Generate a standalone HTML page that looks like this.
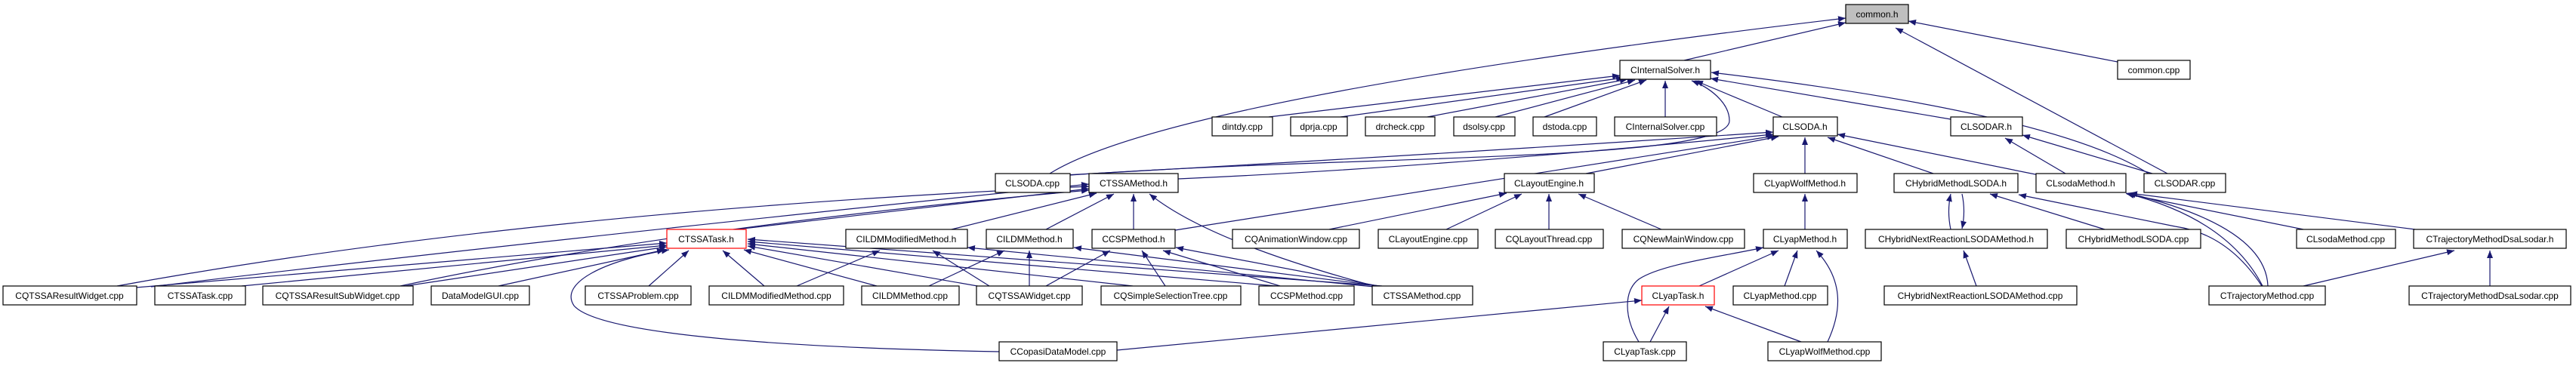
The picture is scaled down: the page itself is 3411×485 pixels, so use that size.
<!DOCTYPE html>
<html><head><meta charset="utf-8"><style>
html,body{margin:0;padding:0;background:#fff}
svg{display:block}
text{font-family:"Liberation Sans",sans-serif;font-size:12px;fill:#000}
.e{fill:none;stroke:#191970;stroke-width:1.2;marker-end:url(#a)}
.n{fill:#fff;stroke:#000;stroke-width:1.2}
.r{fill:#fff;stroke:#ff0000;stroke-width:1.2}
</style></head><body>
<svg width="3411" height="485" viewBox="0 0 3411 485" xmlns="http://www.w3.org/2000/svg">
<defs><marker id="a" markerUnits="userSpaceOnUse" markerWidth="11" markerHeight="9" refX="10" refY="4" orient="auto"><path d="M0,0 L10,4 L0,8 z" fill="#191970"/></marker></defs>
<g>
<!-- common.h -->
<path class="e" d="M2230,80 L2444,30"/>
<path class="e" d="M1390,230 Q1550,130 2444,24"/>
<path class="e" d="M2870,230 L2510,37"/>
<path class="e" d="M2804,82 L2527,28"/>
<!-- CInternalSolver.h -->
<path class="e" d="M1680,155 L2145,100"/>
<path class="e" d="M1775,155 L2150,103"/>
<path class="e" d="M1890,155 L2155,105"/>
<path class="e" d="M1980,155 L2165,106"/>
<path class="e" d="M2045,155 L2180,106"/>
<path class="e" d="M2205,155 L2205,107"/>
<path class="e" d="M2360,155 L2245,107"/>
<path class="e" d="M2583,158 L2265,104"/>
<path class="e" d="M2845,230 Q2720,150 2266,96"/>
<path class="e" d="M1417,232 C1800,205 2290,215 2290,160 C2290,135 2262,115 2240,107"/>
<!-- CLSODA.h -->
<path class="e" d="M1410,232 Q1900,205 2348,175"/>
<path class="e" d="M1560,237 Q1900,222 2348,178"/>
<path class="e" d="M2100,230 L2355,181"/>
<path class="e" d="M1556,305 L2350,180"/>
<path class="e" d="M2390,230 L2390,182"/>
<path class="e" d="M2560,230 L2420,182"/>
<path class="e" d="M2700,232 L2433,178"/>
<!-- CLayoutEngine.h -->
<path class="e" d="M1760,304 L1995,256"/>
<path class="e" d="M1915,304 L2015,257"/>
<path class="e" d="M2051,304 L2051,257"/>
<path class="e" d="M2200,304 L2090,257"/>
<!-- CTSSAMethod.h -->
<path class="e" d="M975,304 L1442,250"/>
<path class="e" d="M1260,304 L1452,256"/>
<path class="e" d="M1385,304 L1475,257"/>
<path class="e" d="M1501,304 L1501,257"/>
<path class="e" d="M1820,379 Q1600,320 1522,257"/>
<path class="e" d="M155,379 Q700,280 1442,247"/>
<path class="e" d="M530,379 Q900,300 1442,252"/>
<path class="e" d="M200,380 Q700,320 1442,244"/>
<!-- CTSSATask.h -->
<path class="e" d="M180,381 L883,322"/>
<path class="e" d="M320,379 L883,325"/>
<path class="e" d="M530,380 L883,327"/>
<path class="e" d="M660,379 L880,331"/>
<path class="e" d="M859,379 L912,332"/>
<path class="e" d="M1012,379 L957,332"/>
<path class="e" d="M1161,379 L985,331"/>
<path class="e" d="M1300,380 L990,326"/>
<path class="e" d="M1500,379 L990,323"/>
<path class="e" d="M1690,379 L990,320"/>
<path class="e" d="M1830,379 L990,317"/>
<path class="e" d="M1323,466 C1000,460 790,440 760,405 C740,375 800,345 886,331"/>
<!-- CILDMModifiedMethod.h -->
<path class="e" d="M1055,379 L1165,332"/>
<path class="e" d="M1310,379 L1235,332"/>
<path class="e" d="M1830,381 L1281,328"/>
<!-- CILDMMethod.h -->
<path class="e" d="M1230,379 L1330,332"/>
<path class="e" d="M1363,379 L1363,332"/>
<path class="e" d="M1835,380 L1422,328"/>
<!-- CCSPMethod.h -->
<path class="e" d="M1385,379 L1470,332"/>
<path class="e" d="M1543,379 L1512,332"/>
<path class="e" d="M1695,379 L1540,332"/>
<path class="e" d="M1825,379 L1557,328"/>
<!-- Lyap -->
<path class="e" d="M2390,304 L2390,257"/>
<path class="e" d="M2170,453 C2150,420 2150,385 2170,370 C2200,350 2280,340 2335,328"/>
<path class="e" d="M2250,379 L2355,332"/>
<path class="e" d="M2363,379 L2380,332"/>
<path class="e" d="M2420,453 C2440,410 2440,370 2405,332"/>
<path class="e" d="M2185,453 L2210,406"/>
<path class="e" d="M2385,453 L2258,406"/>
<path class="e" d="M1479,464 L2174,398"/>
<!-- LSODAR / Lsoda -->
<path class="e" d="M2735,230 L2655,183"/>
<path class="e" d="M2850,230 L2678,179"/>
<path class="e" d="M2996,379 Q2950,290 2815,256"/>
<path class="e" d="M3003,379 Q3000,300 2818,256"/>
<path class="e" d="M3050,304 L2816,257"/>
<path class="e" d="M3198,304 L2820,256"/>
<!-- Hybrid -->
<path class="e" d="M2583,304 Q2578,280 2583,257"/>
<path class="e" d="M2598,257 Q2603,280 2598,303"/>
<path class="e" d="M2787,304 L2635,257"/>
<path class="e" d="M2995,379 Q2950,310 2880,300 L2673,258"/>
<path class="e" d="M2617,379 L2600,332"/>
<!-- Trajectory -->
<path class="e" d="M3050,379 L3250,332"/>
<path class="e" d="M3297,379 L3297,332"/>
</g>
<g>
<rect x="2444" y="6" width="83" height="25" fill="#bfbfbf" stroke="#000" stroke-width="1.2"/><text x="2485.5" y="23" text-anchor="middle">common.h</text>
<rect class="n" x="2145" y="80" width="120" height="25"/><text x="2205" y="97" text-anchor="middle">CInternalSolver.h</text>
<rect class="n" x="2804" y="80" width="96" height="25"/><text x="2852" y="97" text-anchor="middle">common.cpp</text>
<rect class="n" x="1605" y="155" width="80" height="25"/><text x="1645" y="172" text-anchor="middle">dintdy.cpp</text>
<rect class="n" x="1709" y="155" width="75" height="25"/><text x="1746" y="172" text-anchor="middle">dprja.cpp</text>
<rect class="n" x="1808" y="155" width="92" height="25"/><text x="1854" y="172" text-anchor="middle">drcheck.cpp</text>
<rect class="n" x="1925" y="155" width="81" height="25"/><text x="1965" y="172" text-anchor="middle">dsolsy.cpp</text>
<rect class="n" x="2030" y="155" width="84" height="25"/><text x="2072" y="172" text-anchor="middle">dstoda.cpp</text>
<rect class="n" x="2138" y="155" width="135" height="25"/><text x="2205" y="172" text-anchor="middle">CInternalSolver.cpp</text>
<rect class="n" x="2348" y="155" width="85" height="25"/><text x="2390" y="172" text-anchor="middle">CLSODA.h</text>
<rect class="n" x="2583" y="155" width="95" height="25"/><text x="2630" y="172" text-anchor="middle">CLSODAR.h</text>
<rect class="n" x="1318" y="230" width="99" height="25"/><text x="1367" y="247" text-anchor="middle">CLSODA.cpp</text>
<rect class="n" x="1442" y="230" width="118" height="25"/><text x="1501" y="247" text-anchor="middle">CTSSAMethod.h</text>
<rect class="n" x="1992" y="230" width="119" height="25"/><text x="2051" y="247" text-anchor="middle">CLayoutEngine.h</text>
<rect class="n" x="2322" y="230" width="137" height="25"/><text x="2390" y="247" text-anchor="middle">CLyapWolfMethod.h</text>
<rect class="n" x="2508" y="230" width="164" height="25"/><text x="2590" y="247" text-anchor="middle">CHybridMethodLSODA.h</text>
<rect class="n" x="2696" y="230" width="119" height="25"/><text x="2755" y="247" text-anchor="middle">CLsodaMethod.h</text>
<rect class="n" x="2839" y="230" width="108" height="25"/><text x="2893" y="247" text-anchor="middle">CLSODAR.cpp</text>
<rect class="r" x="883" y="304" width="105" height="25"/><text x="935" y="321" text-anchor="middle">CTSSATask.h</text>
<rect class="n" x="1120" y="304" width="161" height="25"/><text x="1200" y="321" text-anchor="middle">CILDMModifiedMethod.h</text>
<rect class="n" x="1306" y="304" width="115" height="25"/><text x="1363" y="321" text-anchor="middle">CILDMMethod.h</text>
<rect class="n" x="1446" y="304" width="110" height="25"/><text x="1501" y="321" text-anchor="middle">CCSPMethod.h</text>
<rect class="n" x="1632" y="304" width="168" height="25"/><text x="1716" y="321" text-anchor="middle">CQAnimationWindow.cpp</text>
<rect class="n" x="1825" y="304" width="132" height="25"/><text x="1891" y="321" text-anchor="middle">CLayoutEngine.cpp</text>
<rect class="n" x="1980" y="304" width="143" height="25"/><text x="2051" y="321" text-anchor="middle">CQLayoutThread.cpp</text>
<rect class="n" x="2148" y="304" width="162" height="25"/><text x="2229" y="321" text-anchor="middle">CQNewMainWindow.cpp</text>
<rect class="n" x="2335" y="304" width="111" height="25"/><text x="2390" y="321" text-anchor="middle">CLyapMethod.h</text>
<rect class="n" x="2470" y="304" width="241" height="25"/><text x="2590" y="321" text-anchor="middle">CHybridNextReactionLSODAMethod.h</text>
<rect class="n" x="2736" y="304" width="178" height="25"/><text x="2825" y="321" text-anchor="middle">CHybridMethodLSODA.cpp</text>
<rect class="n" x="3041" y="304" width="131" height="25"/><text x="3106" y="321" text-anchor="middle">CLsodaMethod.cpp</text>
<rect class="n" x="3196" y="304" width="202" height="25"/><text x="3297" y="321" text-anchor="middle">CTrajectoryMethodDsaLsodar.h</text>
<rect class="n" x="4" y="379" width="177" height="25"/><text x="92" y="396" text-anchor="middle">CQTSSAResultWidget.cpp</text>
<rect class="n" x="205" y="379" width="120" height="25"/><text x="265" y="396" text-anchor="middle">CTSSATask.cpp</text>
<rect class="n" x="348" y="379" width="199" height="25"/><text x="447" y="396" text-anchor="middle">CQTSSAResultSubWidget.cpp</text>
<rect class="n" x="571" y="379" width="130" height="25"/><text x="636" y="396" text-anchor="middle">DataModelGUI.cpp</text>
<rect class="n" x="775" y="379" width="140" height="25"/><text x="845" y="396" text-anchor="middle">CTSSAProblem.cpp</text>
<rect class="n" x="939" y="379" width="178" height="25"/><text x="1028" y="396" text-anchor="middle">CILDMModifiedMethod.cpp</text>
<rect class="n" x="1141" y="379" width="129" height="25"/><text x="1205" y="396" text-anchor="middle">CILDMMethod.cpp</text>
<rect class="n" x="1293" y="379" width="140" height="25"/><text x="1363" y="396" text-anchor="middle">CQTSSAWidget.cpp</text>
<rect class="n" x="1458" y="379" width="185" height="25"/><text x="1550" y="396" text-anchor="middle">CQSimpleSelectionTree.cpp</text>
<rect class="n" x="1667" y="379" width="126" height="25"/><text x="1730" y="396" text-anchor="middle">CCSPMethod.cpp</text>
<rect class="n" x="1817" y="379" width="133" height="25"/><text x="1883" y="396" text-anchor="middle">CTSSAMethod.cpp</text>
<rect class="r" x="2174" y="379" width="96" height="25"/><text x="2222" y="396" text-anchor="middle">CLyapTask.h</text>
<rect class="n" x="2295" y="379" width="125" height="25"/><text x="2357" y="396" text-anchor="middle">CLyapMethod.cpp</text>
<rect class="n" x="2495" y="379" width="255" height="25"/><text x="2622" y="396" text-anchor="middle">CHybridNextReactionLSODAMethod.cpp</text>
<rect class="n" x="2925" y="379" width="154" height="25"/><text x="3002" y="396" text-anchor="middle">CTrajectoryMethod.cpp</text>
<rect class="n" x="3190" y="379" width="214" height="25"/><text x="3297" y="396" text-anchor="middle">CTrajectoryMethodDsaLsodar.cpp</text>
<rect class="n" x="1323" y="453" width="156" height="25"/><text x="1401" y="470" text-anchor="middle">CCopasiDataModel.cpp</text>
<rect class="n" x="2123" y="453" width="110" height="25"/><text x="2178" y="470" text-anchor="middle">CLyapTask.cpp</text>
<rect class="n" x="2341" y="453" width="150" height="25"/><text x="2416" y="470" text-anchor="middle">CLyapWolfMethod.cpp</text>
</g>
</svg>
</body></html>
